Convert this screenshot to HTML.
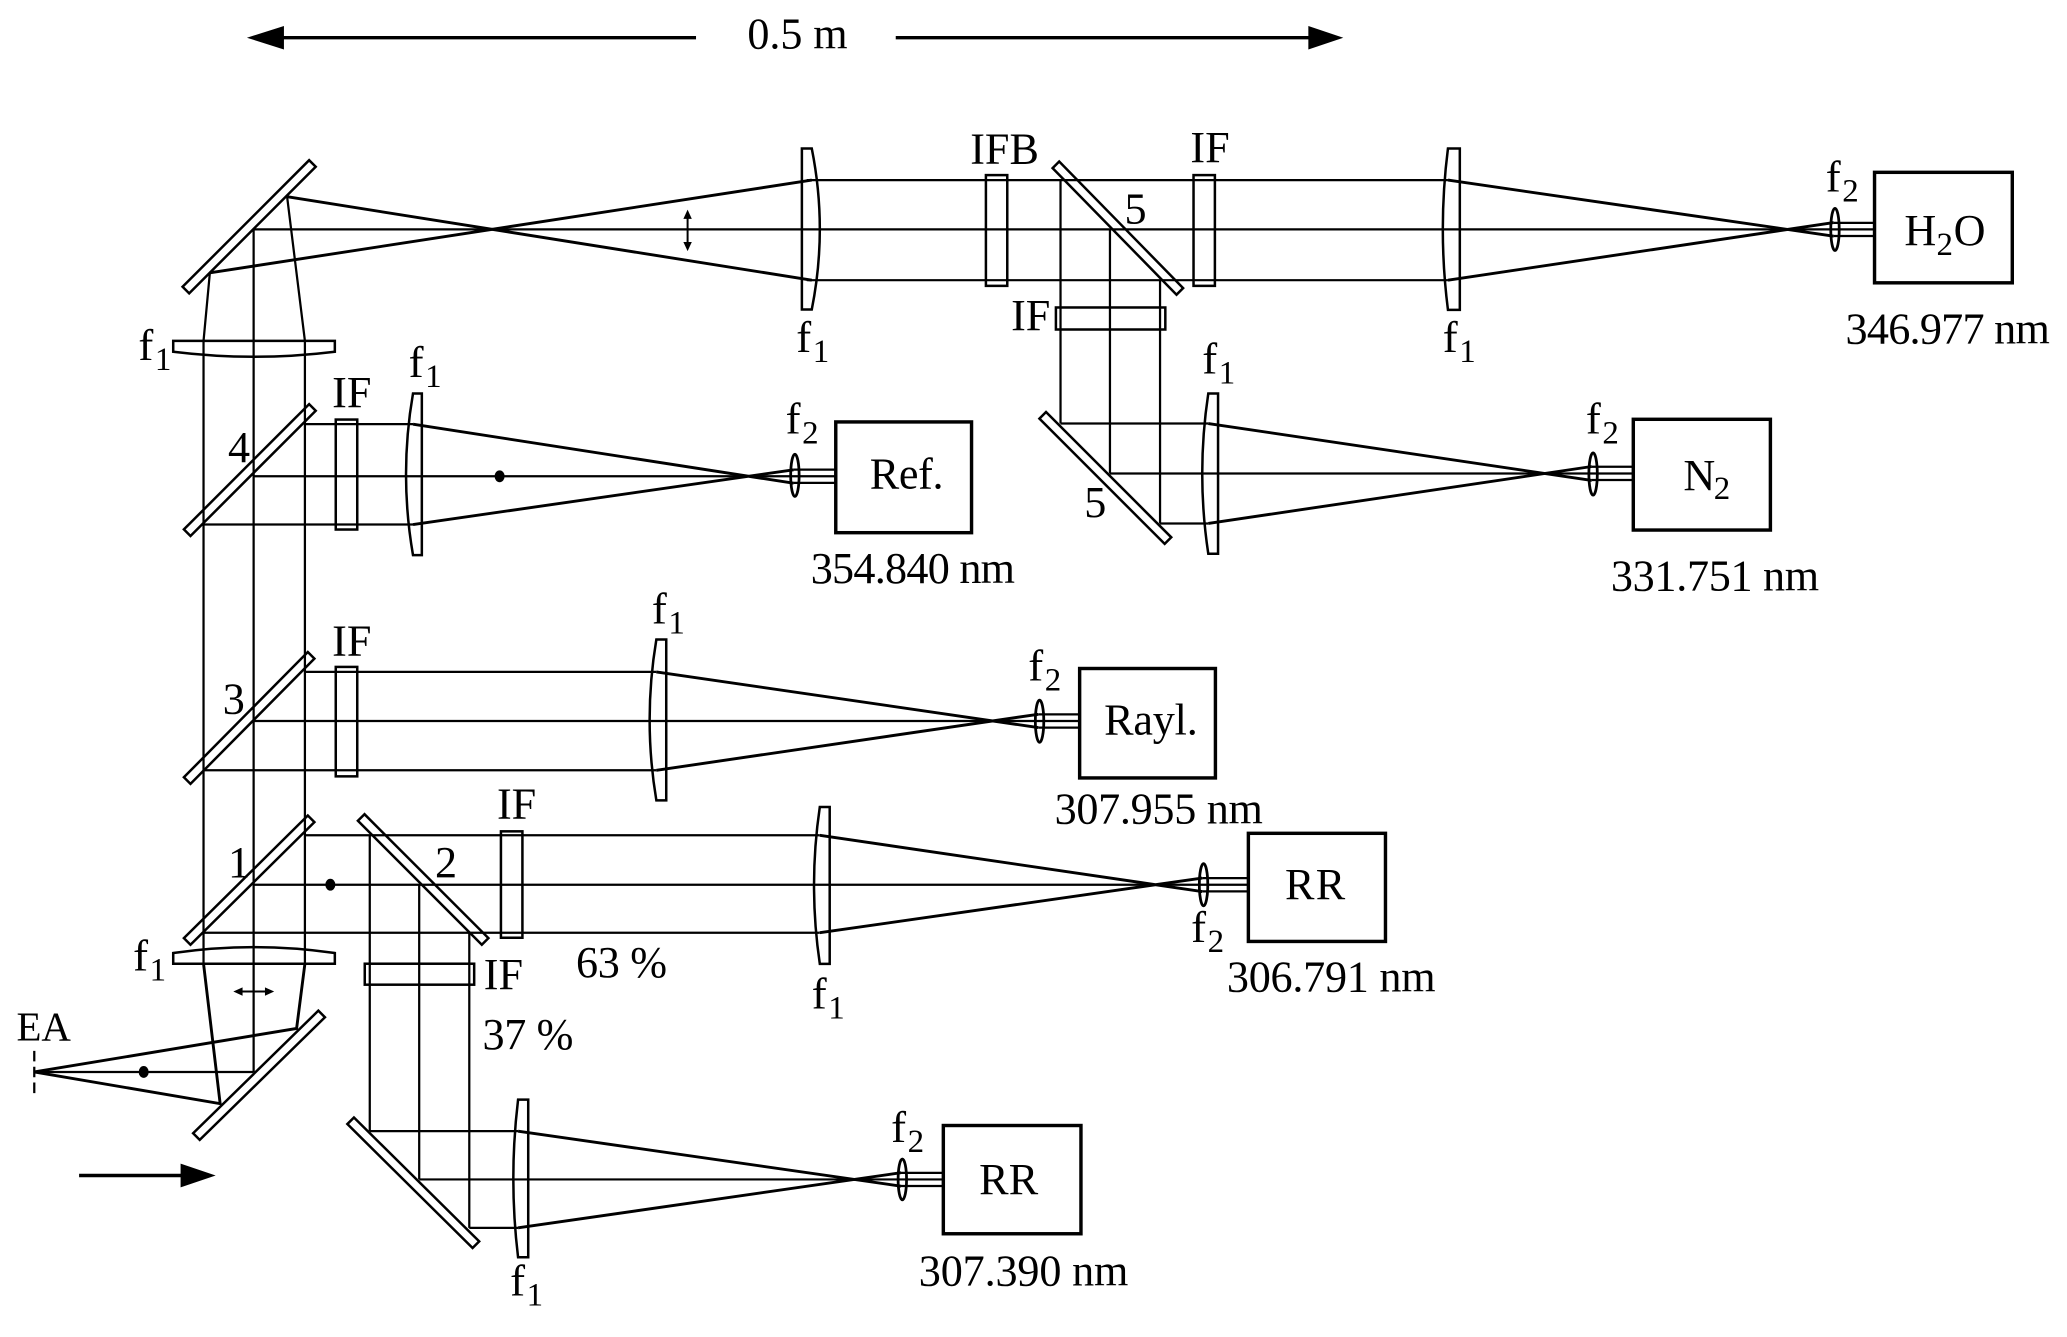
<!DOCTYPE html>
<html>
<head>
<meta charset="utf-8">
<style>
  html,body{margin:0;padding:0;background:#fff;}
  svg{display:block;}
  text{font-family:"Liberation Serif","Times New Roman",serif;fill:#000;stroke:none;}
</style>
</head>
<body>
<svg xmlns="http://www.w3.org/2000/svg" width="2067" height="1337" viewBox="0 0 1568 1014" preserveAspectRatio="none">
<rect x="0" y="0" width="1568" height="1014" fill="#fff"/>

<!-- scale bar -->
<g stroke="#000" stroke-width="2.6" fill="none">
  <line x1="213" y1="28.6" x2="528" y2="28.6"/>
  <line x1="679.5" y1="28.6" x2="995" y2="28.6"/>
  <line x1="60" y1="891.5" x2="139" y2="891.5"/>
</g>
<g fill="#000" stroke="none">
  <polygon points="187.3,28.6 215.4,19.7 215.4,37.5"/>
  <polygon points="1019,28.6 992.5,19.7 992.5,37.5"/>
  <polygon points="163.6,891.5 137,882.5 137,900.5"/>
</g>

<!-- collimated beam lines -->
<g stroke="#000" stroke-width="1.7" fill="none">
  <path d="M192.4,174 H1422"/>
  <path d="M612,136.6 H1098.4"/>
  <path d="M612,212.5 H1098.4"/>
  <path d="M1391,169 H1422 M1391,179 H1422"/>
  <path d="M159.2,206.9 L154.4,258.5 V730.9"/>
  <path d="M192.4,174 V813"/>
  <path d="M217.8,149.2 L231.3,258.5 V730.9"/>
  <path d="M192.4,813 H26"/>
  <path d="M231.3,321.7 H313.3 M154.4,397.8 H313.3 M192.4,361.2 H634"/>
  <path d="M602,356.2 H634 M602,366.2 H634"/>
  <path d="M231.3,509.6 H497.9 M154.4,584.2 H497.9 M192.4,546.8 H819"/>
  <path d="M787.6,541.8 H819 M787.6,551.8 H819"/>
  <path d="M231.3,633.5 H621.9 M154.4,707.4 H621.9 M192.4,671 H947"/>
  <path d="M912,666 H947 M912,676 H947"/>
  <path d="M280.5,633.5 V857.9 M318,671 V894.5 M356,707.4 V931.2"/>
  <path d="M280.5,857.9 H393 M356,931.2 H393 M318,894.5 H715.6"/>
  <path d="M683.5,889.5 H715.6 M683.5,899.5 H715.6"/>
  <path d="M804.5,136.6 V321.2 M842,174 V359.1 M880,212.5 V397"/>
  <path d="M804.5,321.2 H916.6 M880,397 H916.6 M842,359.1 H1239"/>
  <path d="M1207.5,354 H1239 M1207.5,364 H1239"/>
</g>

<!-- converging rays -->
<g stroke="#000" stroke-width="2.2" fill="none">
  <path d="M217.8,149.2 L615.8,212.5"/>
  <path d="M159.2,206.9 L615.8,136.6"/>
  <path d="M1098.4,136.6 L1391,179.1 M1098.4,212.5 L1391,168.8"/>
  <path d="M154.4,730.9 L167,837 L26,813"/>
  <path d="M231.3,730.9 L225,780 L26,813"/>
  <path d="M313.3,321.7 L602,366.5 M313.3,397.8 L602,356.3"/>
  <path d="M497.9,509.6 L787.6,551.8 M497.9,584.2 L787.6,541.7"/>
  <path d="M621.9,633.5 L912,676.2 M621.9,707.4 L912,665.9"/>
  <path d="M393,857.9 L683.5,899.6 M393,931.2 L683.5,889.4"/>
  <path d="M916.6,321.2 L1207.5,364.4 M916.6,397 L1207.5,353.8"/>
</g>

<!-- mirrors / beam splitters -->
<g stroke="#000" stroke-width="1.9" fill="none" stroke-linejoin="miter">
  <polygon points="138.5,217.5 143.5,222.5 239.5,126.5 234.5,121.5"/>
  <polygon points="139.5,401.5 144.5,406.5 239.5,311.5 234.5,306.5"/>
  <polygon points="139.5,589.5 144.5,594.5 238.5,499.5 233.5,494.5"/>
  <polygon points="139.5,711.5 144.5,716.5 238.5,623.5 233.5,618.5"/>
  <polygon points="146.5,859.5 151.5,864.5 246.5,771.5 241.5,766.5"/>
  <polygon points="276.5,617.5 271.5,622.5 365.5,716.5 370.5,711.5"/>
  <polygon points="268.5,847.5 263.5,852.5 358.5,946.5 363.5,941.5"/>
  <polygon points="803.5,122.5 798.5,127.5 892.5,223.5 897.5,218.5"/>
  <polygon points="793.5,312.5 788.5,317.5 883.5,412.5 888.5,407.5"/>

  <!-- filters -->
  <rect x="747.9" y="132.8" width="16.2" height="84"/>
  <rect x="905.4" y="132.8" width="16.2" height="84"/>
  <rect x="801" y="233.2" width="83" height="16.7"/>
  <rect x="254.7" y="318.2" width="16.3" height="83.4"/>
  <rect x="254.7" y="505.8" width="16.3" height="83"/>
  <rect x="380" y="630.5" width="16.3" height="80.7"/>
  <rect x="276.7" y="730.9" width="83" height="15.9"/>

  <!-- f1 lenses -->
  <path d="M608.3,112.6 L615.8,112.6 Q628,173.65 615.8,234.7 L608.3,234.7 Z"/>
  <path d="M1107.4,112.6 L1098.4,112.6 Q1090.6,173.8 1098.4,235 L1107.4,235 Z"/>
  <path d="M320,298.4 L313.3,298.4 Q302.7,359.7 313.3,421 L320,421 Z"/>
  <path d="M924,298.4 L916.6,298.4 Q907.4,359.2 916.6,420 L924,420 Z"/>
  <path d="M505.4,485 L497.9,485 Q487.7,546 497.9,607 L505.4,607 Z"/>
  <path d="M629.4,612 L621.9,612 Q613.1,671.5 621.9,731 L629.4,731 Z"/>
  <path d="M400.7,834 L393,834 Q385.8,893.75 393,953.5 L400.7,953.5 Z"/>
  <path d="M131.4,258.5 L254,258.5 L254,266.8 Q192.7,274.4 131.4,266.8 Z"/>
  <path d="M131.4,730.9 L254,730.9 L254,722.8 Q192.7,713.8 131.4,722.8 Z"/>
</g>

<!-- f2 lenses -->
<g stroke="#000" stroke-width="2.1" fill="none">
  <ellipse cx="1392" cy="174" rx="3.2" ry="16"/>
  <ellipse cx="1208.5" cy="359.5" rx="3.2" ry="16"/>
  <ellipse cx="603" cy="360.5" rx="3.2" ry="16"/>
  <ellipse cx="788.6" cy="547" rx="3.2" ry="16"/>
  <ellipse cx="913" cy="671" rx="3.2" ry="16"/>
  <ellipse cx="684.5" cy="894.5" rx="3.2" ry="15.5"/>
</g>

<!-- detector boxes -->
<g stroke="#000" stroke-width="2.6" fill="#fff">
  <rect x="1422" y="130.7" width="104.5" height="83.8"/>
  <rect x="1239" y="318" width="104" height="84"/>
  <rect x="634" y="320" width="103" height="84"/>
  <rect x="819" y="507" width="103" height="83"/>
  <rect x="947" y="632" width="104" height="82"/>
  <rect x="715.6" y="853.6" width="104.4" height="82.1"/>
</g>

<!-- dots -->
<g fill="#000" stroke="none">
  <ellipse cx="379" cy="361.2" rx="3.8" ry="4.5"/>
  <ellipse cx="250.6" cy="671" rx="3.8" ry="4.5"/>
  <ellipse cx="109" cy="813" rx="3.8" ry="4.5"/>
</g>

<!-- EA dashed aperture -->
<line x1="26" y1="797" x2="26" y2="830" stroke="#000" stroke-width="1.7" stroke-dasharray="8,4"/>

<!-- double arrows -->
<g stroke="#000" stroke-width="1.5" fill="none">
  <line x1="521.6" y1="164" x2="521.6" y2="186"/>
  <line x1="182" y1="752" x2="203" y2="752"/>
</g>
<g fill="#000" stroke="none">
  <polygon points="521.6,159 518.4,166 524.8,166"/>
  <polygon points="521.6,190.5 518.4,183.5 524.8,183.5"/>
  <polygon points="177,752 184,748.8 184,755.2"/>
  <polygon points="208,752 201,748.8 201,755.2"/>
</g>

<!-- labels -->
<g font-size="33.5">
  <text x="567" y="36.6" textLength="76">0.5 m</text>
  <text x="736" y="124">IFB</text>
  <text x="903" y="122.7">IF</text>
  <text x="853" y="169.5">5</text>
  <text x="767" y="250.4">IF</text>
  <text x="1444.6" y="186">H</text>
  <text x="1482" y="186">O</text>
  <text x="1400" y="260.5" textLength="155">346.977 nm</text>
  <text x="252" y="308.6">IF</text>
  <text x="173" y="350.5">4</text>
  <text x="659.8" y="370.5" textLength="56">Ref.</text>
  <text x="615" y="442" textLength="155">354.840 nm</text>
  <text x="822.5" y="392">5</text>
  <text x="1277" y="371.8">N</text>
  <text x="1222" y="447.7" textLength="158">331.751 nm</text>
  <text x="252" y="497">IF</text>
  <text x="169" y="541">3</text>
  <text x="837.6" y="557.2" textLength="71">Rayl.</text>
  <text x="800" y="624.7" textLength="158">307.955 nm</text>
  <text x="377" y="620.9">IF</text>
  <text x="173" y="665">1</text>
  <text x="330" y="665">2</text>
  <text x="437" y="741" textLength="69">63 %</text>
  <text x="974.8" y="682" textLength="45.7">RR</text>
  <text x="930.7" y="752" textLength="158.3">306.791 nm</text>
  <text x="367" y="749.9">IF</text>
  <text x="366" y="795.4" textLength="69">37 %</text>
  <text x="12.5" y="789" font-size="31">EA</text>
  <text x="742.8" y="905.4" textLength="44.8">RR</text>
  <text x="697" y="975" textLength="159">307.390 nm</text>
</g>
<!-- subscripts for H2O, N2 -->
<g font-size="25">
  <text x="1469" y="193.5">2</text>
  <text x="1300" y="378.6">2</text>
</g>

<!-- f labels (f + subscript) -->
<g font-size="34">
  <text x="604" y="266.8">f</text>
  <text x="1094.5" y="266.8">f</text>
  <text x="1385" y="145.4">f</text>
  <text x="105" y="273">f</text>
  <text x="310" y="285.8">f</text>
  <text x="596" y="328.8">f</text>
  <text x="912" y="283.3">f</text>
  <text x="1203" y="328.8">f</text>
  <text x="494.5" y="473">f</text>
  <text x="780" y="516">f</text>
  <text x="615.8" y="765">f</text>
  <text x="903.6" y="714.5">f</text>
  <text x="101" y="736">f</text>
  <text x="387" y="982.5">f</text>
  <text x="676" y="866">f</text>
</g>
<g font-size="25">
  <text x="616.5" y="274.4">1</text>
  <text x="1107" y="274.4">1</text>
  <text x="1397.5" y="153">2</text>
  <text x="117.5" y="280.7">1</text>
  <text x="322.5" y="293.4">1</text>
  <text x="608.5" y="336.4">2</text>
  <text x="924.5" y="290.8">1</text>
  <text x="1215.5" y="336.4">2</text>
  <text x="507" y="480.5">1</text>
  <text x="792.5" y="523.5">2</text>
  <text x="628.3" y="772.6">1</text>
  <text x="916.1" y="722">2</text>
  <text x="113.5" y="743.6">1</text>
  <text x="399.5" y="990">1</text>
  <text x="688.5" y="873.8">2</text>
</g>
</svg>
</body>
</html>
